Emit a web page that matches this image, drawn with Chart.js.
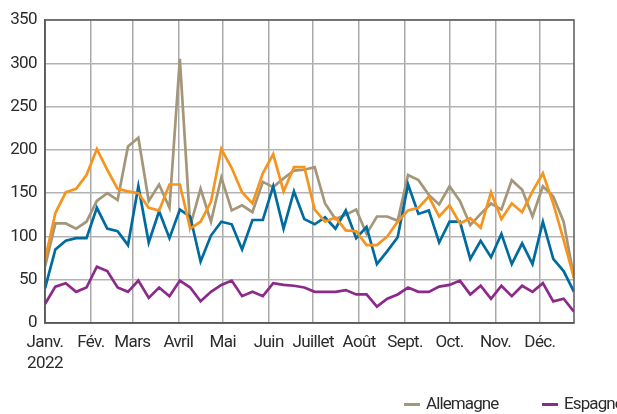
<!DOCTYPE html>
<html lang="fr">
<head>
<meta charset="UTF-8">
<title>Graphique hebdomadaire 2022</title>
<script src="https://cdn.jsdelivr.net/npm/chart.js@4.4.1/dist/chart.umd.min.js"></script>
<style>
  html, body { margin: 0; padding: 0; background: #fff; }
  #wrap { position: relative; width: 617px; height: 414px; overflow: hidden; }
  .legende { position: absolute; top: 393px; font: 17px Roboto, sans-serif; letter-spacing: -0.9px; color: #2b2b2b; white-space: nowrap; }
  .legende span { display: inline-block; width: 16px; height: 3px; vertical-align: middle; margin-right: 6px; }
</style>
</head>
<body>
<div id="wrap">
  <canvas id="graphique" width="617" height="414"></canvas>
  <div class="legende" style="left:404px"><span style="background:#a39679"></span>Allemagne</div>
  <div class="legende" style="left:542px"><span style="background:#8c2a8c"></span>Espagne</div>
</div>

<script>
  // mois (début de chaque mois, en jours depuis le 1er janvier)
  const mois = ['Janv.', 'Fév.', 'Mars', 'Avril', 'Mai', 'Juin', 'Juillet', 'Août', 'Sept.', 'Oct.', 'Nov.', 'Déc.'];
  const debutMois = [0, 31, 59, 90, 120, 151, 181, 212, 243, 273, 304, 334];

  // séries hebdomadaires (52 semaines)
  const allemagne = [65, 115, 115, 109, 117, 141, 150, 142, 204, 214, 141, 160, 133, 305, 112, 155, 117, 168, 130, 136,
    128, 163, 157, 167, 176, 177, 180, 138, 120, 125, 131, 103, 123, 123, 118, 171, 165, 148, 137, 158,
    141, 113, 126, 138, 131, 165, 154, 123, 158, 146, 117, 52];
  const espagne = [22, 42, 46, 36, 41, 65, 60, 41, 36, 49, 29, 41, 31, 49, 41, 25, 36, 44, 49, 31,
    36, 31, 46, 44, 43, 41, 36, 36, 36, 38, 33, 33, 19, 28, 33, 41, 36, 36, 42, 44,
    49, 33, 43, 28, 43, 31, 43, 36, 46, 25, 28, 13];
  const serieBleue = [40, 85, 95, 98, 98, 133, 109, 106, 90, 158, 93, 129, 98, 131, 123, 71, 101, 117, 114, 85,
    119, 119, 158, 109, 152, 120, 114, 122, 109, 130, 98, 111, 68, 83, 99, 160, 126, 130, 93, 117,
    117, 74, 95, 76, 103, 68, 92, 68, 117, 74, 60, 36];
  const serieOrange = [73, 127, 151, 155, 171, 201, 177, 155, 152, 150, 133, 130, 160, 160, 109, 117, 140, 201, 179, 151,
    138, 173, 195, 152, 180, 180, 131, 117, 122, 107, 106, 90, 90, 100, 117, 130, 133, 146, 123, 136,
    115, 121, 110, 151, 120, 138, 128, 152, 173, 138, 96, 52];

  const enPoints = serie => serie.map((v, i) => ({ x: i * 7, y: v }));

  // texte un peu resserré + cadre autour de la zone de tracé
  const cadre = {
    id: 'cadre',
    beforeDraw(chart) {
      chart.ctx.letterSpacing = '-0.6px';
    },
    afterDatasetsDraw(chart) {
      const a = chart.chartArea, ctx = chart.ctx;
      ctx.save();
      ctx.strokeStyle = '#5a5a5a';
      ctx.lineWidth = 1.5;
      ctx.strokeRect(a.left, a.top, a.right - a.left, a.bottom - a.top);
      ctx.restore();
    }
  };

  const police = { family: 'Roboto, sans-serif', size: 17 };

  new Chart(document.getElementById('graphique'), {
    type: 'line',
    data: {
      datasets: [
        { label: '', data: enPoints(serieOrange), borderColor: '#f7941d' },
        { label: '', data: enPoints(serieBleue), borderColor: '#006b9f' },
        { label: 'Allemagne', data: enPoints(allemagne), borderColor: '#a39679' },
        { label: 'Espagne', data: enPoints(espagne), borderColor: '#8c2a8c' }
      ]
    },
    options: {
      responsive: false,
      animation: false,
      layout: { padding: { top: 20, right: 43, left: 0, bottom: 0 } },
      elements: {
        point: { radius: 0 },
        line: { borderWidth: 2.7, tension: 0, fill: false, borderJoinStyle: 'miter' }
      },
      plugins: { legend: { display: false }, tooltip: { enabled: false } },
      scales: {
        x: {
          type: 'linear',
          min: 0,
          max: 357,
          afterBuildTicks: s => { s.ticks = debutMois.map(v => ({ value: v })); },
          afterFit: s => { s.height = 91; },
          grid: { color: '#a9a9a9', lineWidth: 1.5, drawTicks: false },
          border: { color: '#5a5a5a', width: 1.5 },
          ticks: {
            autoSkip: false,
            maxRotation: 0,
            padding: 10,
            color: '#2b2b2b',
            font: police,
            callback: (v, i) => i === 0 ? [mois[0], '2022'] : mois[i]
          }
        },
        y: {
          min: 0,
          max: 350,
          afterFit: s => { s.width = 45; },
          grid: { color: '#b3b3b3', lineWidth: 1.5, drawTicks: false },
          border: { color: '#5a5a5a', width: 1.5 },
          ticks: { stepSize: 50, padding: 8, color: '#2b2b2b', font: police }
        }
      }
    },
    plugins: [cadre]
  });
</script>
</body>
</html>
